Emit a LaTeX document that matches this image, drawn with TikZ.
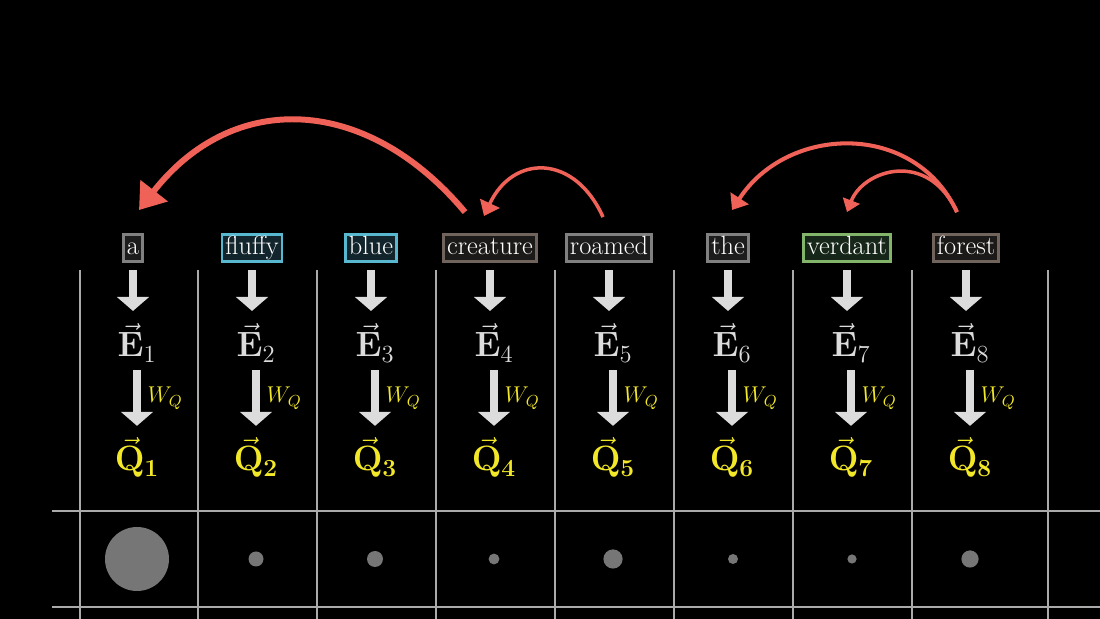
\documentclass[tikz,border=0pt]{standalone}
\usepackage{fix-cm}
\usepackage{amsmath}
\usetikzlibrary{arrows.meta, positioning}

\definecolor{gridgray}{RGB}{170,170,170}
\definecolor{arrowgray}{RGB}{220,220,220}
\definecolor{egray}{RGB}{220,220,220}
\definecolor{qyellow}{RGB}{242,232,40}
\definecolor{attnred}{RGB}{240,98,88}
\definecolor{dotgray}{RGB}{118,118,118}
\definecolor{wgray}{RGB}{128,128,128}
\definecolor{wblue}{RGB}{88,184,208}
\definecolor{wbrown}{RGB}{112,100,92}
\definecolor{wgreen}{RGB}{130,180,106}
\definecolor{fgray}{RGB}{28,28,28}
\definecolor{fblue}{RGB}{18,36,44}
\definecolor{fbrown}{RGB}{28,26,25}
\definecolor{fgreen}{RGB}{22,38,24}

\tikzset{
    word/.style 2 args={draw=#1, fill=#2, line width=1.5pt, text=white,
        font=\fontsize{15}{17}\selectfont, inner xsep=2pt, inner ysep=0pt,
        minimum height=15.5pt, text height=10.5pt, text depth=3pt},
    enode/.style={text=egray, font=\fontsize{20}{22}\selectfont, anchor=base,
        inner sep=0pt, text height=26pt, text depth=7.4pt},
    qnode/.style={text=qyellow, font=\fontsize{20}{22}\selectfont, anchor=base,
        inner sep=0pt, text height=25.5pt, text depth=7pt},
    wq/.style={text=qyellow, font=\fontsize{13}{15}\selectfont, anchor=west,
        inner sep=0pt, xshift=4pt},
    down/.style={draw=arrowgray, line width=4.2pt, -{Triangle[length=8pt, width=18pt]}},
    attnbig/.style={draw=attnred, line width=3.4pt, -{Triangle[length=14pt, width=19pt]}},
    attn/.style={draw=attnred, line width=2pt, -{Triangle[length=8pt, width=12pt]}}
}

\begin{document}
\begin{tikzpicture}[x=0.02cm, y=0.02cm]
    % background
    \fill[black] (0,0) rectangle (1100,619);
    \useasboundingbox (0,0) rectangle (1100,619);

    % grid
    \foreach \x in {80,198,317,436,555,674,793,912,1048}
        \draw[gridgray, line width=0.8pt] (\x,349) -- (\x,0);
    \foreach \y in {108,12}
        \draw[gridgray, line width=0.8pt] (52,\y) -- (1100,\y);

    % tokens, embeddings and queries
    \foreach \w/\d/\f [count=\i] in {a/wgray/fgray, fluffy/wblue/fblue, blue/wblue/fblue,
        creature/wbrown/fbrown, roamed/wgray/fgray, the/wgray/fgray,
        verdant/wgreen/fgreen, forest/wbrown/fbrown} {
        \pgfmathsetmacro\cx{14+119*\i}
        \node[word={\d}{\f}] (\w) at (\cx,371) {\w};
        \node[enode] (e\i) at (\cx+4,262) {$\vec{\mathbf{E}}_\i$};
        \node[qnode] (q\i) at (\cx+4,148) {$\vec{\mathbf{Q}}_{\mathbf{\i}}$};
        \draw[down, shorten <=4pt] (\w.south) -- (\w.south |- e\i.north);
        \draw[down] (e\i.south) -- node[wq] {$W_Q$} (q\i.north);
    }

    % attention arrows
    \draw[attnbig] ([shift={(-25,21)}]creature.north) to[out=130, in=52, looseness=1.2] ([shift={(6,23)}]a.north);
    \draw[attn] ([shift={(-6,16)}]roamed.north) to[out=114, in=65, looseness=1.48] ([shift={(-6,17)}]creature.north);
    \draw[attn, line width=2.3pt] ([shift={(-9,21)}]forest.north) to[out=115, in=57, looseness=1.15] ([shift={(4,23)}]the.north);
    \draw[attn, -{Triangle[length=7pt, width=10pt]}] ([shift={(-9,21)}]forest.north) .. controls +(115:70) and +(69:45) .. ([shift={(0,21)}]verdant.north);

    % weights
    \foreach \x/\r in {137/32, 256/7.5, 375/8, 494/5.4, 613/9.6, 733/5, 852/4.6, 970/8.6}
        \fill[dotgray] (\x,60) circle (\r);
\end{tikzpicture}
\end{document}
